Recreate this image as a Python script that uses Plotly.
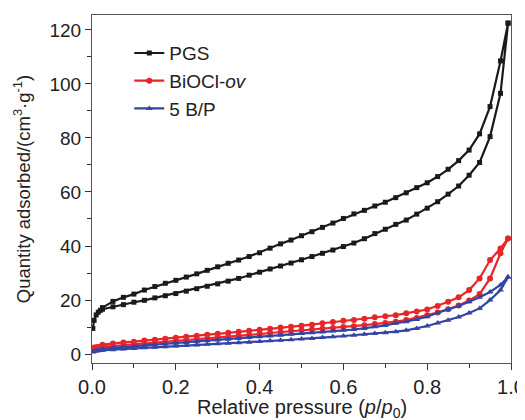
import plotly.graph_objects as go

# Relative pressure grid (adsorption branch, then desorption branch)
ads_x = [0.002, 0.005, 0.01, 0.015, 0.02, 0.025, 0.05, 0.075, 0.10, 0.125, 0.15, 0.175, 0.20,
         0.225, 0.25, 0.275, 0.30, 0.325, 0.35, 0.375, 0.40, 0.425, 0.45, 0.475, 0.50, 0.525,
         0.55, 0.575, 0.60, 0.625, 0.65, 0.675, 0.70, 0.725, 0.75, 0.775, 0.80, 0.825, 0.85,
         0.875, 0.90, 0.925, 0.95, 0.975, 0.993]
des_x = [0.993, 0.975, 0.95, 0.925, 0.90, 0.875, 0.85, 0.825, 0.80, 0.775, 0.75, 0.725, 0.70,
         0.675, 0.65, 0.625, 0.60, 0.575, 0.55, 0.525, 0.50, 0.475, 0.45, 0.425, 0.40, 0.375,
         0.35, 0.325, 0.30, 0.275, 0.25, 0.225, 0.20, 0.175, 0.15, 0.125, 0.10, 0.075, 0.05, 0.025]

pgs_ads = [9.5, 12.5, 14.5, 15.5, 16.2, 16.6, 17.5, 18.3, 19.2, 19.9, 20.8, 21.6, 22.4,
           23.3, 24.2, 25.1, 26.0, 27.0, 28.0, 29.2, 30.3, 31.5, 32.6, 33.7, 34.9, 36.1,
           37.3, 38.5, 39.8, 41.1, 42.7, 44.6, 46.2, 48.0, 49.6, 51.8, 54.0, 56.4, 59.2,
           62.2, 66.2, 70.9, 80.5, 96.5, 122.5]
pgs_des = [122.5, 108.5, 91.6, 81.5, 75.5, 71.6, 68.4, 65.7, 63.4, 61.6, 59.7, 57.9, 56.2,
           54.8, 53.2, 51.9, 50.2, 48.5, 46.9, 45.3, 43.8, 42.2, 40.8, 39.2, 37.5, 36.1,
           34.8, 33.6, 32.3, 31.0, 29.7, 28.5, 27.3, 26.2, 25.0, 23.7, 22.2, 21.0, 19.5, 17.2]

bio_ads = [2.2, 2.4, 2.5, 2.6, 2.7, 2.8, 3.0, 3.3, 3.7, 4.0, 4.3, 4.6, 4.9,
           5.2, 5.5, 5.8, 6.1, 6.4, 6.8, 7.1, 7.4, 7.8, 8.1, 8.5, 8.8, 9.1,
           9.4, 9.7, 10.0, 10.3, 10.7, 11.1, 11.5, 12.0, 12.6, 13.4, 14.4, 15.4, 16.6,
           18.0, 19.8, 22.2, 28.0, 37.3, 42.8]
bio_des = [42.8, 39.1, 34.8, 28.0, 23.7, 21.0, 19.4, 17.8, 16.5, 15.8, 15.1, 14.4, 14.0,
           13.6, 13.1, 12.6, 12.3, 11.9, 11.4, 10.9, 10.5, 10.1, 9.8, 9.4, 9.0, 8.6,
           8.3, 7.9, 7.5, 7.2, 6.8, 6.4, 6.0, 5.7, 5.3, 5.0, 4.6, 4.3, 3.9, 3.5]

bp_ads = [0.8, 1.0, 1.1, 1.2, 1.3, 1.4, 1.6, 1.9, 2.1, 2.3, 2.5, 2.7, 3.0,
          3.2, 3.4, 3.6, 3.8, 4.0, 4.2, 4.4, 4.7, 4.9, 5.1, 5.3, 5.6, 5.8,
          6.1, 6.4, 6.7, 7.0, 7.3, 7.6, 7.9, 8.3, 8.8, 9.5, 10.4, 11.5, 12.5,
          13.7, 15.2, 16.9, 20.0, 23.7, 28.5]
bp_des = [28.5, 25.6, 23.0, 21.0, 19.4, 17.8, 16.5, 15.3, 13.8, 12.8, 12.0, 11.4, 10.6,
          10.1, 9.5, 9.1, 8.8, 8.5, 8.2, 7.9, 7.6, 7.3, 7.0, 6.7, 6.4, 6.1,
          5.8, 5.5, 5.2, 4.9, 4.6, 4.3, 4.0, 3.7, 3.4, 3.1, 2.9, 2.6, 2.3, 2.0]

series_names = ["PGS", "BiOCl-<i>ov</i>", "5 B/P"]
x_ticks = [0.0, 0.2, 0.4, 0.6, 0.8, 1.0]
x_tick_labels = ["0.0", "0.2", "0.4", "0.6", "0.8", "1.0"]
y_ticks = [0, 20, 40, 60, 80, 100, 120]
x_title = "Relative pressure (<i>p</i>/<i>p</i><sub>0</sub>)"
y_title = "Quantity adsorbed/(cm<sup>3</sup>·g<sup>-1</sup>)"

series = [
    (series_names[0], pgs_ads, pgs_des, "#1a1a1a", "square", 5),
    (series_names[1], bio_ads, bio_des, "#e8262a", "circle", 6),
    (series_names[2], bp_ads, bp_des, "#3444a4", "triangle-up", 6),
]

fig = go.Figure()
for name, ya, yd, col, sym, ms in series:
    fig.add_trace(go.Scatter(
        x=ads_x + des_x, y=ya + yd, name=name, mode="lines+markers",
        line=dict(color=col, width=2.2),
        marker=dict(symbol=sym, size=ms, color=col),
    ))

axis_common = dict(
    showline=True, linecolor="#555555", linewidth=1, mirror=True,
    ticks="outside", ticklen=6, tickwidth=1, tickcolor="#333333",
    showgrid=False, zeroline=False, automargin=False,
)

# the page body adds an 8px offset; size/margins compensate for it
fig.update_layout(
    width=517, height=412,
    margin=dict(l=84, r=14, t=7, b=57),
    paper_bgcolor="white", plot_bgcolor="white",
    font=dict(family="Liberation Sans, Arial", color="#222222"),
    xaxis=dict(range=[0, 1.0], tickvals=x_ticks, ticktext=x_tick_labels,
               tickfont=dict(size=20, color="#222222"),
               minor=dict(ticks="outside", ticklen=4, dtick=0.1, tickcolor="#333333"),
               **axis_common),
    yaxis=dict(range=[-3.3, 125.5], tickvals=y_ticks,
               tickfont=dict(size=19, color="#222222"),
               minor=dict(ticks="outside", ticklen=4, dtick=10, tick0=0, tickcolor="#333333"),
               title=dict(text=y_title, font=dict(size=18.5), standoff=14),
               **axis_common),
    legend=dict(x=0.089, y=0.945, xanchor="left", yanchor="top",
                bgcolor="rgba(0,0,0,0)", font=dict(size=19),
                tracegroupgap=0, itemwidth=30),
    showlegend=True,
    annotations=[dict(text=x_title, xref="paper", yref="paper", x=0.5, y=-0.13,
                      xanchor="center", yanchor="middle", showarrow=False,
                      font=dict(size=20, color="#222222"))],
)

fig.write_html("out.html")
